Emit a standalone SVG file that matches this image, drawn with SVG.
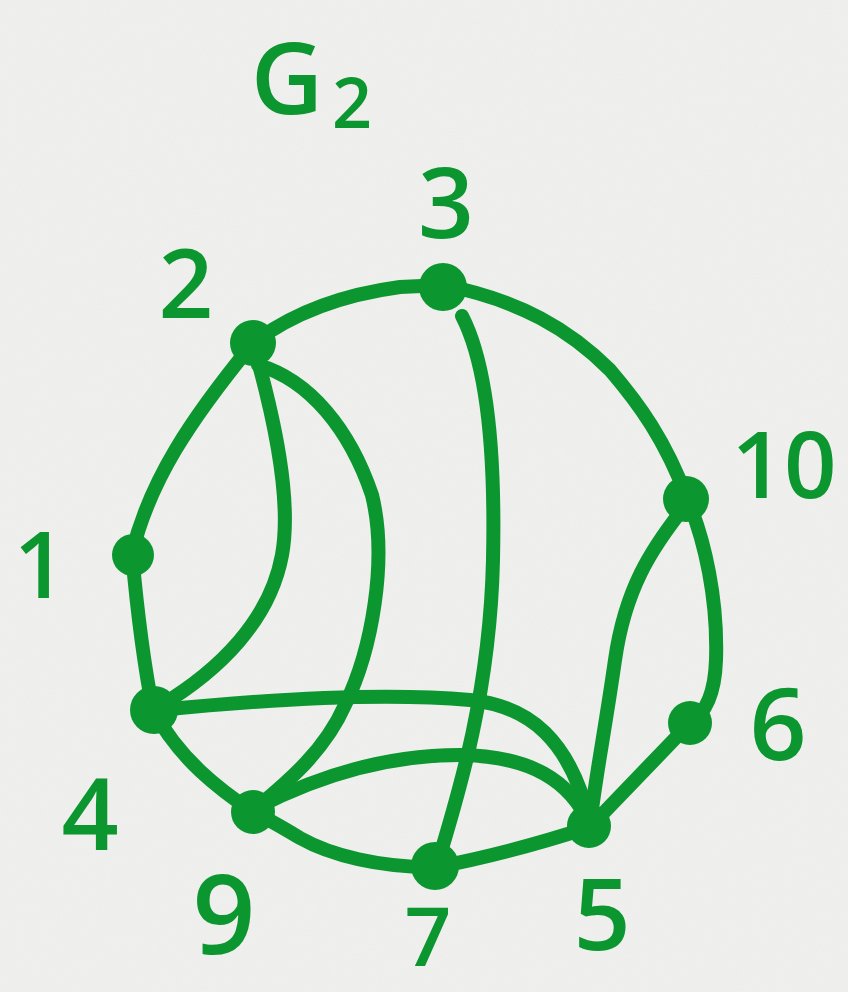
<svg xmlns="http://www.w3.org/2000/svg" width="848" height="992" viewBox="0 0 848 992">
<defs>
<filter id="grain" x="0" y="0" width="100%" height="100%">
<feTurbulence type="fractalNoise" baseFrequency="0.9" numOctaves="2" seed="3" result="n"/>
<feColorMatrix in="n" type="matrix" values="0 0 0 0 0.55  0 0 0 0 0.55  0 0 0 0 0.55  0 0 0 0.12 0"/>
</filter>
<style>
.e{fill:none;stroke:#0b962f;stroke-width:14;stroke-linecap:round;stroke-linejoin:round}
.n{fill:#0b962f}
.t{font-family:"Open Sans","Liberation Sans",sans-serif;font-weight:600;fill:#0b962f;text-anchor:middle}
</style>
</defs>
<rect width="848" height="992" fill="#f1f1ef"/>
<rect width="848" height="992" filter="url(#grain)"/>

<g id="connectors">
<path class="e" d="M253,343 C290,315 340,295 400,287 L443,285"/>
<path class="e" d="M443,285 C520,300 570,330 610,370 C640,405 665,440 687,498"/>
<path class="e" d="M687,498 C705,540 718,600 716,660 C715,690 708,712 690,723"/>
<path class="e" d="M690,723 L590,827"/>
<path class="e" d="M590,827 C550,840 500,855 437,867"/>
<path class="e" d="M437,867 C380,868 330,855 300,838 C280,826 262,816 253,812"/>
<path class="e" d="M253,812 C220,790 180,760 153,710"/>
<path class="e" d="M153,710 C145,670 138,620 132,553"/>
<path class="e" d="M132,553 C150,480 190,420 253,343"/>
<path class="e" d="M253,343 C275,420 292,500 282,555 C270,620 220,670 160,706"/>
<path class="e" d="M258,365 C310,380 350,430 372,495 C388,560 372,650 345,705 C325,750 290,780 256,808"/>
<path class="e" d="M462,316 C490,370 495,470 493,560 C490,690 460,790 437,865"/>
<path class="e" d="M686,505 C650,550 625,590 615,660 C605,730 595,780 590,825"/>
<path class="e" d="M160,710 C260,700 380,692 470,700 C530,706 570,740 590,822"/>
<path class="e" d="M256,808 C310,780 380,755 460,755 C530,756 570,780 590,825"/>
</g>

<g id="node-3"><circle class="n" cx="443" cy="287" r="24"/><text class="t" x="446" y="238" font-size="98">3</text></g>
<g id="node-2"><circle class="n" cx="253" cy="343" r="23"/><text class="t" x="186" y="318" font-size="96">2</text></g>
<g id="node-1"><circle class="n" cx="133" cy="555" r="21"/><text class="t" x="40" y="598" font-size="92">1</text></g>
<g id="node-10"><circle class="n" cx="686" cy="499" r="23"/><text class="t" x="784" y="498" font-size="92">10</text></g>
<g id="node-4"><circle class="n" cx="154" cy="710" r="24"/><text class="t" x="90" y="850" font-size="100">4</text></g>
<g id="node-9"><circle class="n" cx="253" cy="812" r="22"/><text class="t" x="224" y="954" font-size="110">9</text></g>
<g id="node-7"><circle class="n" cx="435" cy="866" r="24"/><text class="t" x="428" y="966" font-size="82">7</text></g>
<g id="node-5"><circle class="n" cx="589" cy="826" r="22"/><text class="t" x="602" y="950" font-size="100">5</text></g>
<g id="node-6"><circle class="n" cx="690" cy="723" r="22"/><text class="t" x="778" y="760" font-size="100">6</text></g>
<g id="title"><text class="t" x="287" y="114" font-size="100">G</text><text class="t" x="352" y="128" font-size="70">2</text></g>
</svg>
